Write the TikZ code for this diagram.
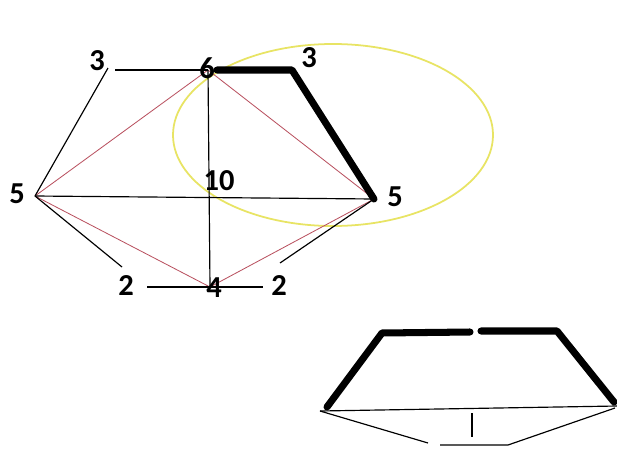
\documentclass[tikz,border=0pt]{standalone}
\usepackage{fontspec}
\setmainfont{Carlito}
\usetikzlibrary{shapes.geometric}
\begin{document}
\begin{tikzpicture}[x=0.03cm,y=-0.03cm,
  lbl/.style={font=\fontsize{26}{26}\selectfont\bfseries,inner sep=0pt},
  thin/.style={line width=1pt,black},
  redl/.style={line width=0.7pt,color={rgb,255:red,185;green,80;blue,95}},
  thick/.style={line width=6pt,black,line cap=round,line join=round},
  yell/.style={line width=1.5pt,color={rgb,255:red,232;green,228;blue,100}}]
\useasboundingbox (0,0) rectangle (617,448);
\fill[white] (0,0) rectangle (617,448);
% ellipse
\node[yell,draw,ellipse,minimum width=320*0.03cm,minimum height=182*0.03cm,inner sep=0pt] (ell) at (333,135) {};
% vertices
\coordinate (v6) at (208,70);
\coordinate (v3) at (292,70);
\coordinate (v5R) at (374,199);
\coordinate (v5L) at (35,196);
\coordinate (v4) at (210,287);
\coordinate (tlA) at (108,68);
\coordinate (tlB) at (115,70);
\coordinate (blA) at (122,267);
\coordinate (blB) at (147,287);
\coordinate (brA) at (263,287);
\coordinate (brB) at (280,263);
% red lines
\draw[redl] (v5L) -- (v6);
\draw[redl] (v6) -- (v5R);
\draw[redl] (v5L) -- (v4);
\draw[redl] (v4) -- (v5R);
% black thin lines
\draw[thin] (v5L) -- (tlA);
\draw[thin] (tlB) -- (v6);
\draw[thin] (v6) -- (v4);
\draw[thin] (v5L) -- (v5R);
\draw[thin] (v5L) -- (blA);
\draw[thin] (blB) -- (v4) -- (brA);
\draw[thin] (brB) -- (v5R);
% thick
\draw[thick] (217,70) -- (v3) -- (v5R);
% labels
\node[lbl] (l3a) at (97,61) {3};
\node[lbl] (l6) at (207,68) {6};
\node[lbl] (l3b) at (309,58) {3};
\node[lbl] (l5L) at (17,194) {5};
\node[lbl] (l10) at (219,181) {10};
\node[lbl] (l5R) at (395,197) {5};
\node[lbl] (l2L) at (126,286) {2};
\node[lbl] (l4) at (214,288) {4};
\node[lbl] (l2R) at (279,286) {2};
% bottom shape
\coordinate (b1) at (327,407);
\coordinate (b2) at (382,333);
\coordinate (b3) at (470,332);
\coordinate (b4) at (481,331);
\coordinate (b5) at (557,331);
\coordinate (b6) at (614,402);
\coordinate (c1) at (320,411);
\coordinate (c2) at (617,406);
\coordinate (c3) at (428,443);
\coordinate (c4) at (440,445);
\coordinate (c5) at (508,445);
\coordinate (c6) at (615,408);
\coordinate (c7) at (472,413);
\coordinate (c8) at (472,437);
\draw[thick] (b1) -- (b2) -- (b3);
\draw[thick] (b4) -- (b5) -- (b6);
\draw[thin] (c1) -- (c2);
\draw[thin] (c1) -- (c3);
\draw[thin] (c4) -- (c5) -- (c6);
\draw[thin] (c7) -- (c8);
\end{tikzpicture}
\end{document}
